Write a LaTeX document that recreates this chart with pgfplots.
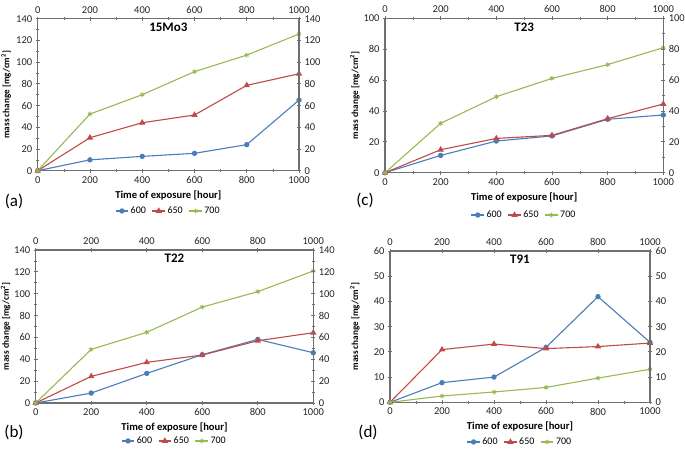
\documentclass[border=0pt]{standalone}
\usepackage{pgfplots}
\pgfplotsset{compat=1.18}
\usepackage{fontspec}
\setmainfont{Carlito}
\definecolor{cblue}{HTML}{4A7EBB}
\definecolor{cred}{HTML}{BE4B48}
\definecolor{cgreen}{HTML}{98B954}
\definecolor{axgray}{HTML}{6F6F6F}
\pgfplotsset{
  base/.style={scale only axis, anchor=south west, xmin=0, xmax=1000,
    ymin=0, xtick={0,200,...,1000}, minor x tick num=1, minor y tick num=1,
    axis line style={axgray, line width=1.3pt},
    major tick style={axgray, line width=0.8pt}, minor tick style={axgray, line width=0.6pt},
    major tick length=4pt, minor tick length=2.5pt, tick align=center,
    tick label style={font=\fontsize{10.5}{11}\selectfont, text=black!85},
    /pgf/number format/assume math mode=true,
    /pgf/number format/set thousands separator={}, clip=false},
  panel/.style={base, axis x line*=bottom, axis y line*=left,
    xlabel={\bfseries Time of exposure [hour]},
    ylabel={\bfseries mass change [mg/cm\textsuperscript{2}]},
    xlabel style={font=\fontsize{10.6}{11}\selectfont, at={(axis description cs:0.5,-0.16)}, anchor=center},
    every axis y label/.style={at={(axis description cs:#1,0.5)}, rotate=90, anchor=center, font=\fontsize{9.2}{10}\selectfont},
    title style={font=\fontsize{13}{14}\selectfont\bfseries, at={(axis description cs:0.5,0.905)}, anchor=center},
    legend columns=3, legend style={draw=none, fill=none, font=\fontsize{10}{11}\selectfont, inner sep=0pt,
      /tikz/every even column/.append style={column sep=4pt}},
    legend image code/.code={\draw[mark repeat=2,mark phase=2] plot coordinates {(0cm,0cm) (0.22cm,0cm) (0.44cm,0cm)};},
    legend cell align=left},
  over/.style={base, axis x line*=top, axis y line*=right},
  s600/.style={cblue, line width=1.1pt, mark=*, mark size=2.1pt, mark options={solid}},
  s650/.style={cred, line width=1.1pt, mark=triangle*, mark size=2.6pt, mark options={solid}},
  s700/.style={cgreen, line width=1.1pt, mark=asterisk, mark size=2.3pt, mark options={solid, line width=1pt}},
}
\begin{document}
\begin{tikzpicture}
\useasboundingbox (0,0) rectangle (685pt,-448pt);
% (a)
\begin{axis}[panel={-0.121}, at={(37.7pt,-170.7pt)}, width=261.3pt, height=152pt, ymax=140, ytick={0,20,...,140},
  title={15Mo3}, legend style={at={(axis description cs:0.5,-0.265)}, anchor=center}]
\addplot[s600] coordinates {(0,0) (200,10) (400,13.2) (600,16) (800,24) (1000,65)};
\addplot[s650] coordinates {(0,0) (200,30.4) (400,44.2) (600,51.3) (800,78.6) (1000,89.3)};
\addplot[s700] coordinates {(0,0) (200,52.2) (400,70) (600,91.2) (800,106.5) (1000,125.9)};
\legend{600,650,700}
\end{axis}
\begin{axis}[over, at={(37.7pt,-170.7pt)}, width=261.3pt, height=152pt, ymax=140, ytick={0,20,...,140}]
\end{axis}
% (c)
\begin{axis}[panel={-0.108}, at={(385pt,-172.7pt)}, width=278.3pt, height=154.4pt, ymax=100, ytick={0,20,...,100},
  title={T23}, legend style={at={(axis description cs:0.5,-0.274)}, anchor=center}]
\addplot[s600] coordinates {(0,0) (200,11.2) (400,20.5) (600,23.8) (800,34.6) (1000,37.4)};
\addplot[s650] coordinates {(0,0) (200,14.9) (400,22.2) (600,24.2) (800,35) (1000,44.5)};
\addplot[s700] coordinates {(0,0) (200,32) (400,49.2) (600,61.1) (800,70) (1000,81)};
\legend{600,650,700}
\end{axis}
\begin{axis}[over, at={(385pt,-172.7pt)}, width=278.3pt, height=154.4pt, ymax=100, ytick={0,20,...,100}]
\end{axis}
% (b)
\begin{axis}[panel={-0.108}, at={(35.7pt,-403pt)}, width=277.6pt, height=153pt, ymax=140, ytick={0,20,...,140},
  title={T22}, legend style={at={(axis description cs:0.5,-0.248)}, anchor=center}]
\addplot[s600] coordinates {(0,0) (200,9.1) (400,27.1) (600,44.2) (800,58.2) (1000,46)};
\addplot[s650] coordinates {(0,0) (200,24.4) (400,37.2) (600,43.9) (800,57) (1000,64.3)};
\addplot[s700] coordinates {(0,0) (200,49.1) (400,64.7) (600,87.8) (800,101.9) (1000,120.8)};
\legend{600,650,700}
\end{axis}
\begin{axis}[over, at={(35.7pt,-403pt)}, width=277.6pt, height=153pt, ymax=140, ytick={0,20,...,140}]
\end{axis}
% (d)
\begin{axis}[panel={-0.135}, at={(390pt,-402.3pt)}, width=260pt, height=151.3pt, ymax=60, ytick={0,10,...,60},
  title={T91}, legend style={at={(axis description cs:0.5,-0.262)}, anchor=center}]
\addplot[s600] coordinates {(0,0) (200,7.8) (400,10) (600,21.8) (800,41.9) (1000,23.8)};
\addplot[s650] coordinates {(0,0) (200,20.9) (400,23.1) (600,21.3) (800,22.1) (1000,23.5)};
\addplot[s700] coordinates {(0,0) (200,2.5) (400,4.1) (600,5.9) (800,9.6) (1000,13.1)};
\legend{600,650,700}
\end{axis}
\begin{axis}[over, at={(390pt,-402.3pt)}, width=260pt, height=151.3pt, ymax=60, ytick={0,10,...,60}]
\end{axis}
% panel letters
\node[font=\fontsize{17}{18}\selectfont] at (14pt,-201.7pt) {(a)};
\node[font=\fontsize{17}{18}\selectfont] at (365pt,-200pt) {(c)};
\node[font=\fontsize{17}{18}\selectfont] at (14pt,-432pt) {(b)};
\node[font=\fontsize{17}{18}\selectfont] at (368pt,-432pt) {(d)};
\end{tikzpicture}
\end{document}
